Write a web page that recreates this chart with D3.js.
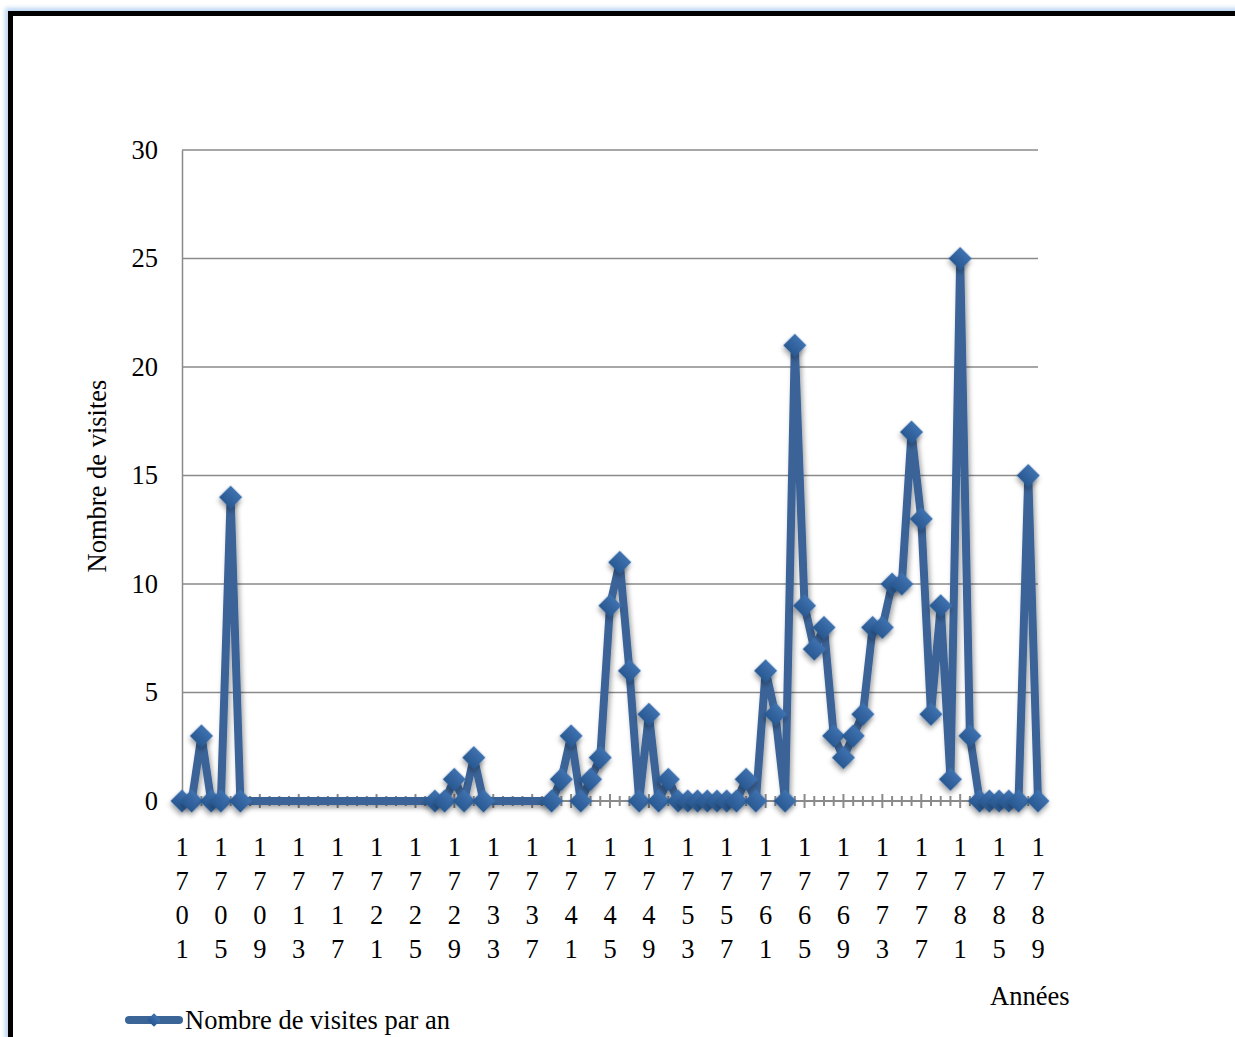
<!DOCTYPE html>
<html>
<head>
<meta charset="utf-8">
<script src="https://cdn.jsdelivr.net/npm/d3@7"></script>
<style>
  body { margin: 0; background: #fff; }
  svg text { font-family: "Liberation Serif", "Times New Roman", serif; }
</style>
</head>
<body>
<div id="chart-area"></div>
<script>
// years 1701..1789, null = no value recorded
let years = d3.range(1701, 1790);

let visites = [
	0, 0, 3, 0, 0, 14, 0,                       // 1701-1707
	null, null, null, null, null, null, null, null, null, null, // 1708-1717
	null, null, null, null, null, null, null, null, null,       // 1718-1726
	0, 0, 1, 0, 2, 0,                           // 1727-1732
	null, null, null, null, null, null,         // 1733-1738
	0, 1, 3, 0, 1, 2, 9, 11, 6, 0,              // 1739-1748
	4, 0, 1, 0, 0, 0, 0, 0, 0, 0,               // 1749-1758
	1, 0, 6, 4, 0, 21, 9, 7, 8, 3,              // 1759-1768
	2, 3, 4, 8, 8, 10, 10, 17, 13, 4,           // 1769-1778
	9, 1, 25, 3, 0, 0, 0, 0, 0, 15,             // 1779-1788
	0                                           // 1789
];

let yTicks = [0, 5, 10, 15, 20, 25, 30];
let labelYears = years.filter((d, i) => i % 4 === 0);

let data = years.map((y, i) => ({year: y, value: visites[i]}));

let width = 1235, height = 1037;
let fontSize = 26.5;

let svg = d3.select("#chart-area").append("svg")
	.attr("width", width)
	.attr("height", height);

let defs = svg.append("defs");

let glow = defs.append("filter").attr("id", "glow")
	.attr("x", "-5%").attr("y", "-5%").attr("width", "110%").attr("height", "110%");
glow.append("feGaussianBlur").attr("stdDeviation", 2);

let shadow = defs.append("filter").attr("id", "shadow")
	.attr("x", "-50%").attr("y", "-50%").attr("width", "200%").attr("height", "200%");
shadow.append("feDropShadow")
	.attr("dx", 2).attr("dy", 3).attr("stdDeviation", 2.5)
	.attr("flood-color", "#000").attr("flood-opacity", 0.35);

let grad = defs.append("linearGradient").attr("id", "diamondGrad")
	.attr("x1", 0).attr("y1", 0).attr("x2", 0).attr("y2", 1);
grad.append("stop").attr("offset", "0%").attr("stop-color", "#3f72b0");
grad.append("stop").attr("offset", "100%").attr("stop-color", "#285891");

// frame
svg.append("rect")
	.attr("x", 10).attr("y", 13)
	.attr("width", 1240).attr("height", 1040)
	.attr("fill", "none")
	.attr("stroke", "#bcd6f2")
	.attr("stroke-width", 10)
	.attr("filter", "url(#glow)");
svg.append("rect")
	.attr("x", 10.5).attr("y", 13.5)
	.attr("width", 1240).attr("height", 1040)
	.attr("fill", "#fff")
	.attr("stroke", "#000")
	.attr("stroke-width", 5);

let xScale = d3.scalePoint()
	.domain(years)
	.range([182, 1038]);

let yScale = d3.scaleLinear()
	.domain([0, 30])
	.range([801, 150]);

// gridlines
svg.append("g")
	.selectAll("line")
	.data(yTicks)
	.enter()
	.append("line")
	.attr("x1", 182).attr("x2", 1038)
	.attr("y1", d => yScale(d)).attr("y2", d => yScale(d))
	.attr("stroke", "#8a8a8a")
	.attr("stroke-width", 1.5);

// y axis
let yAxis = d3.axisLeft(yScale)
	.tickValues(yTicks)
	.tickSize(0)
	.tickPadding(24);

let yG = svg.append("g")
	.attr("transform", "translate(182,0)")
	.call(yAxis)
	.attr("font-family", null)
	.attr("font-size", null);
yG.select(".domain").attr("stroke", "#8a8a8a").attr("stroke-width", 1.5);
yG.selectAll("text")
	.style("font-size", fontSize + "px")
	.attr("fill", "#000");

// x axis: yearly ticks crossing the baseline, longer at labelled years
let xG = svg.append("g");
xG.selectAll("line")
	.data(years)
	.enter()
	.append("line")
	.attr("x1", d => xScale(d)).attr("x2", d => xScale(d))
	.attr("y1", d => labelYears.includes(d) ? 794 : 796)
	.attr("y2", d => labelYears.includes(d) ? 808 : 806)
	.attr("stroke", "#8a8a8a")
	.attr("stroke-width", 2);
xG.append("line")
	.attr("x1", 182).attr("x2", 1038)
	.attr("y1", 801).attr("y2", 801)
	.attr("stroke", "#8a8a8a")
	.attr("stroke-width", 2);

// stacked digit labels
let lab = svg.append("g")
	.selectAll("text")
	.data(labelYears)
	.enter()
	.append("text")
	.attr("text-anchor", "middle")
	.style("font-size", fontSize + "px")
	.attr("fill", "#000");
lab.each(function (d) {
	let t = d3.select(this);
	String(d).split("").forEach((c, i) => {
		t.append("tspan")
			.attr("x", xScale(d))
			.attr("y", 856 + i * 34)
			.text(c);
	});
});

// axis titles
svg.append("text")
	.attr("transform", "translate(106,476) rotate(-90)")
	.attr("text-anchor", "middle")
	.style("font-size", fontSize + "px")
	.text("Nombre de visites");

svg.append("text")
	.attr("x", 990).attr("y", 1005)
	.style("font-size", fontSize + "px")
	.text("Années");

// series
let defined = data.filter(d => d.value !== null);

let line = d3.line()
	.x(d => xScale(d.year))
	.y(d => yScale(d.value));

svg.append("path")
	.datum(defined)
	.attr("d", line)
	.attr("fill", "none")
	.attr("stroke", "#3b6497")
	.attr("stroke-width", 8)
	.attr("stroke-linejoin", "round")
	.attr("filter", "url(#shadow)");

let diamond = d3.symbol().type(d3.symbolSquare).size(270);

svg.append("g")
	.selectAll("path")
	.data(defined)
	.enter()
	.append("path")
	.attr("d", diamond)
	.attr("transform", d => "translate(" + xScale(d.year) + "," + yScale(d.value) + ") rotate(45)")
	.attr("fill", "url(#diamondGrad)")
	.attr("filter", "url(#shadow)");

// legend
let leg = svg.append("g");
leg.append("line")
	.attr("x1", 129).attr("x2", 179)
	.attr("y1", 1020).attr("y2", 1020)
	.attr("stroke", "#3b6497")
	.attr("stroke-width", 8)
	.attr("stroke-linecap", "round");
leg.append("path")
	.attr("d", d3.symbol().type(d3.symbolSquare).size(90))
	.attr("transform", "translate(154,1020) rotate(45)")
	.attr("fill", "url(#diamondGrad)");
leg.append("text")
	.attr("x", 185).attr("y", 1029)
	.style("font-size", fontSize + "px")
	.text("Nombre de visites par an");
</script>
</body>
</html>
